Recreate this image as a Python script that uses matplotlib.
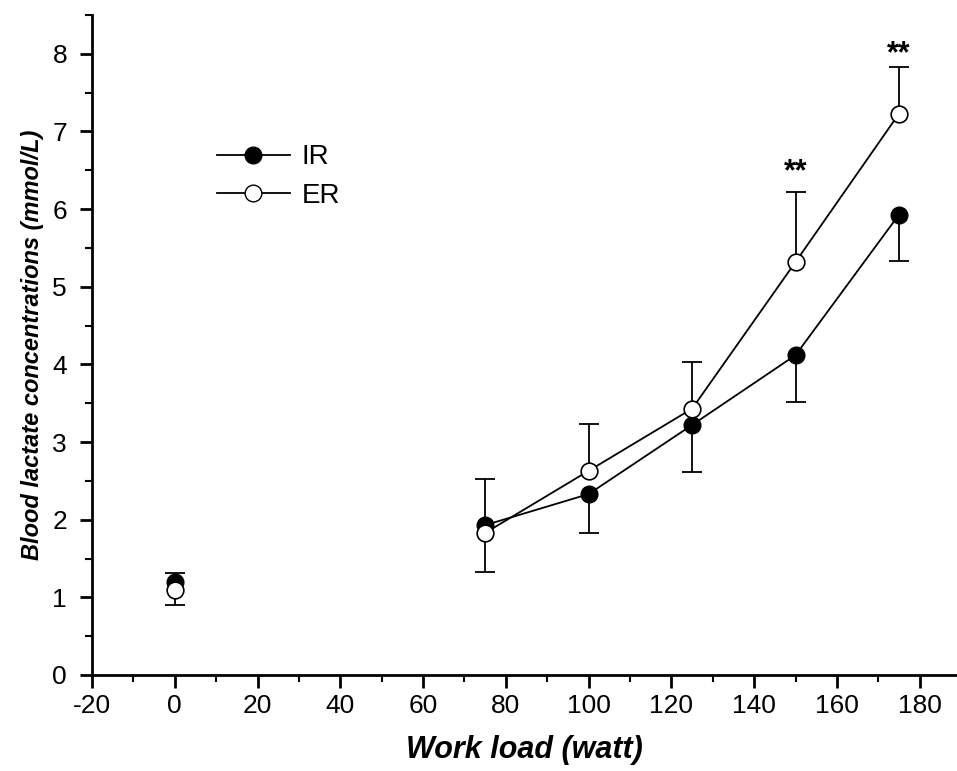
import matplotlib
matplotlib.use("Agg")
import matplotlib.pyplot as plt
from matplotlib.ticker import MultipleLocator
from matplotlib.lines import Line2D
import numpy as np

plt.rcParams['font.family'] = ['Liberation Sans', 'DejaVu Sans']
plt.rcParams['axes.unicode_minus'] = False

workload = [0, 75, 100, 125, 150, 175]
ir_mean = [1.20, 1.93, 2.33, 3.22, 4.12, 5.93]
ir_err_low = [0.0, 0.60, 0.50, 0.60, 0.60, 0.60]
ir_err_high = [0.11, 0.0, 0.0, 0.0, 0.0, 0.0]
er_mean = [1.10, 1.83, 2.63, 3.43, 5.32, 7.23]
er_err_low = [0.20, 0.0, 0.0, 0.0, 0.0, 0.0]
er_err_high = [0.0, 0.70, 0.60, 0.60, 0.90, 0.60]
sig_x = [150, 175]
sig_y = [6.47, 8.0]
sig_text = ["**", "**"]

fig = plt.figure(figsize=(9.57, 7.71), dpi=100)
ax = fig.add_axes([92/957, 96/771, (957-92)/957, (675-15)/771])

ekw = dict(ecolor='black', elinewidth=1.3, capsize=7, capthick=1.3, fmt='none', zorder=2)

def draw_err(xs, means, lows, highs):
    xs = np.asarray(xs, float); means = np.asarray(means, float)
    lows = np.asarray(lows, float); highs = np.asarray(highs, float)
    for sel, low_side in ((lows > 0, True), (highs > 0, False)):
        if not sel.any():
            continue
        n = int(sel.sum())
        yerr = [lows[sel], np.zeros(n)] if low_side else [np.zeros(n), highs[sel]]
        _, caps, _ = ax.errorbar(xs[sel], means[sel], yerr=yerr, **ekw)
        # hide the cap that sits on the mean itself
        for c in caps:
            if np.allclose(np.asarray(c.get_ydata(), float), means[sel]):
                c.set_visible(False)

draw_err(workload, ir_mean, ir_err_low, ir_err_high)
draw_err(workload, er_mean, er_err_low, er_err_high)

ax.plot(workload[1:], ir_mean[1:], '-', color='black', lw=1.3, zorder=3)
ax.plot(workload[1:], er_mean[1:], '-', color='black', lw=1.3, zorder=3)
ax.plot(workload, ir_mean, 'o', color='black', ms=12, mec='black', mew=1.0, zorder=4, linestyle='none')
ax.plot(workload, er_mean, 'o', color='white', ms=12, mec='black', mew=1.2, zorder=5, linestyle='none')

for x, y, t in zip(sig_x, sig_y, sig_text):
    ax.text(x, y, t, ha='center', va='center', fontsize=22, fontweight='bold')

h_ir = Line2D([], [], color='black', lw=1.3, marker='o', ms=12, mfc='black', mec='black')
h_er = Line2D([], [], color='black', lw=1.3, marker='o', ms=12, mfc='white', mec='black')
leg = ax.legend([h_ir, h_er], ['IR', 'ER'], loc='upper left', bbox_to_anchor=(0.116, 0.842),
                frameon=False, fontsize=20, handlelength=2.6, handletextpad=0.43, labelspacing=0.45)

ax.set_xlim(-20, 189)
ax.set_ylim(0, 8.5)
ax.xaxis.set_major_locator(MultipleLocator(20))
ax.xaxis.set_minor_locator(MultipleLocator(10))
ax.yaxis.set_major_locator(MultipleLocator(1))
ax.yaxis.set_minor_locator(MultipleLocator(0.5))
ax.tick_params(axis='both', which='major', direction='out', length=9, width=2, labelsize=19)
ax.tick_params(axis='x', which='major', pad=5)
ax.tick_params(axis='y', which='major', pad=9)
ax.tick_params(axis='both', which='minor', direction='out', length=5, width=1.5)
for s in ['top', 'right']:
    ax.spines[s].set_visible(False)
for s in ['left', 'bottom']:
    ax.spines[s].set_linewidth(2)

ax.set_xlabel('Work load (watt)', fontsize=22, fontweight='bold', style='italic', labelpad=12)
ax.set_ylabel('Blood lactate concentrations (mmol/L)', fontsize=17, fontweight='bold', style='italic', labelpad=6)

fig.savefig('out.png', dpi=100)
